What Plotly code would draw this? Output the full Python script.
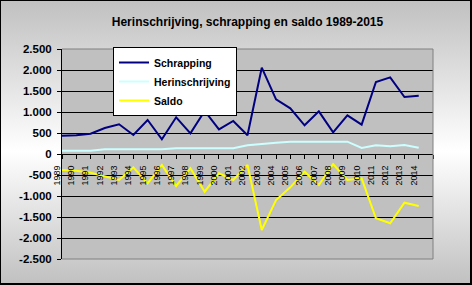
import base64
import plotly.graph_objects as go

years = list(range(1989, 2015))
schrapping = [436, 445, 483, 619, 707, 452, 810, 350, 873, 492, 1024, 587, 786, 445,
              2055, 1302, 1087, 683, 1016, 516, 921, 698, 1714, 1825, 1357, 1389]
herinschrijving = [79, 79, 79, 112, 112, 112, 112, 112, 136, 136, 136, 136, 136, 207,
                   245, 269, 293, 293, 293, 293, 293, 143, 207, 183, 214, 150]
saldo = [-381, -397, -445, -524, -619, -317, -698, -262, -762, -341, -897, -460, -619, -262,
         -1810, -1095, -793, -421, -738, -238, -619, -579, -1531, -1650, -1159, -1238]

x_ticks = list(range(1989, 2016))
x_ticktext = [str(y) for y in range(1989, 2015)] + [""]
y_ticks = [2500, 2000, 1500, 1000, 500, 0, -500, -1000, -1500, -2000, -2500]
y_ticktext = ["2.500", "2.000", "1.500", "1.000", "500", "0", "-500", "-1.000",
              "-1.500", "-2.000", "-2.500"]

W, H = 472, 285
ML, MR, MT, MB = 62, 39, 49, 26
PW, PH = W - ML - MR, H - MT - MB

svg = (
    f'<svg xmlns="http://www.w3.org/2000/svg" width="{W}" height="{H}" viewBox="0 0 {W} {H}" '
    'preserveAspectRatio="none"><defs><linearGradient id="g" x1="0" y1="0" x2="0" y2="1">'
    '<stop offset="0" stop-color="#C0C0C0"/><stop offset="0.53" stop-color="#FFFFFF"/>'
    '<stop offset="1" stop-color="#C0C0C0"/></linearGradient></defs>'
    f'<rect x="0" y="0" width="{W}" height="{H}" fill="url(#g)"/>'
    f'<rect x="0.5" y="0.5" width="{W-1.5}" height="{H-1.5}" fill="none" stroke="#000" stroke-width="1"/>'
    f'<line x1="{W-1}" y1="0" x2="{W-1}" y2="{H}" stroke="#000" stroke-width="2"/>'
    f'<line x1="0" y1="{H-1}" x2="{W}" y2="{H-1}" stroke="#000" stroke-width="2"/>'
    '</svg>'
)
bg_src = "data:image/svg+xml;base64," + base64.b64encode(svg.encode()).decode()

FONT = "Arial, Liberation Sans, sans-serif"

fig = go.Figure()
fig.add_trace(go.Scatter(x=years, y=schrapping, name="Schrapping", mode="lines",
                         line=dict(color="#000080", width=2)))
fig.add_trace(go.Scatter(x=years, y=herinschrijving, name="Herinschrijving", mode="lines",
                         line=dict(color="#CCFFFF", width=2)))
fig.add_trace(go.Scatter(x=years, y=saldo, name="Saldo", mode="lines",
                         line=dict(color="#FFFF00", width=2)))

fig.update_layout(
    width=W, height=H,
    margin=dict(l=ML, r=MR, t=MT, b=MB, pad=0),
    paper_bgcolor="#C0C0C0",
    plot_bgcolor="rgba(0,0,0,0)",
    images=[dict(source=bg_src, xref="paper", yref="paper",
                 x=-ML / PW, y=1 + MT / PH, sizex=W / PW, sizey=H / PH,
                 xanchor="left", yanchor="top", sizing="stretch", layer="below")],
    shapes=[
        dict(type="rect", xref="paper", yref="paper", x0=0, x1=1, y0=0, y1=1,
             fillcolor="#C0C0C0", line=dict(width=0), layer="below"),
        dict(type="line", xref="paper", yref="paper", x0=0, x1=1, y0=1, y1=1,
             line=dict(color="#808080", width=1), layer="above"),
        dict(type="line", xref="paper", yref="paper", x0=0, x1=1, y0=0, y1=0,
             line=dict(color="#808080", width=1), layer="above"),
        dict(type="line", xref="paper", yref="paper", x0=1, x1=1, y0=0, y1=1,
             line=dict(color="#808080", width=1), layer="above"),
    ],
    title=dict(text="<b>Herinschrijving, schrapping en saldo 1989-2015</b>",
               x=0.5, xref="paper", xanchor="center",
               y=1 - 22 / H, yref="container", yanchor="middle",
               font=dict(family=FONT, size=12, color="#000000")),
    xaxis=dict(range=[1989, 2015], tickvals=x_ticks, ticktext=x_ticktext,
               tickangle=-90, ticks="outside", ticklen=4, tickcolor="#000000", tickwidth=1,
               anchor="free", position=0.5, showline=True, linecolor="#000000", linewidth=1,
               showgrid=False, zeroline=False,
               tickfont=dict(family="Liberation Sans Narrow, Arial Narrow, " + FONT, size=9,
                             color="#000000"),
               ticklabelshift=-5, ticklabelstandoff=3),
    yaxis=dict(range=[-2500, 2500], tickvals=y_ticks, ticktext=y_ticktext,
               ticks="outside", ticklen=4, tickcolor="#000000", tickwidth=1,
               showline=True, linecolor="#000000", linewidth=1,
               showgrid=True, gridcolor="#000000", gridwidth=1,
               zeroline=True, zerolinecolor="#000000", zerolinewidth=1,
               tickfont=dict(family=FONT, size=11.5, color="#000000", weight="bold"),
               ticklabelstandoff=3),
    legend=dict(x=(113 - ML) / PW, y=(H - MB - 47) / PH, xanchor="left", yanchor="top",
                bgcolor="#FFFFFF", bordercolor="#000000", borderwidth=1,
                font=dict(family=FONT, size=10.5, color="#000000", weight="bold"),
                itemwidth=30, tracegroupgap=0),
    showlegend=True,
)

fig.write_html("out.html")
